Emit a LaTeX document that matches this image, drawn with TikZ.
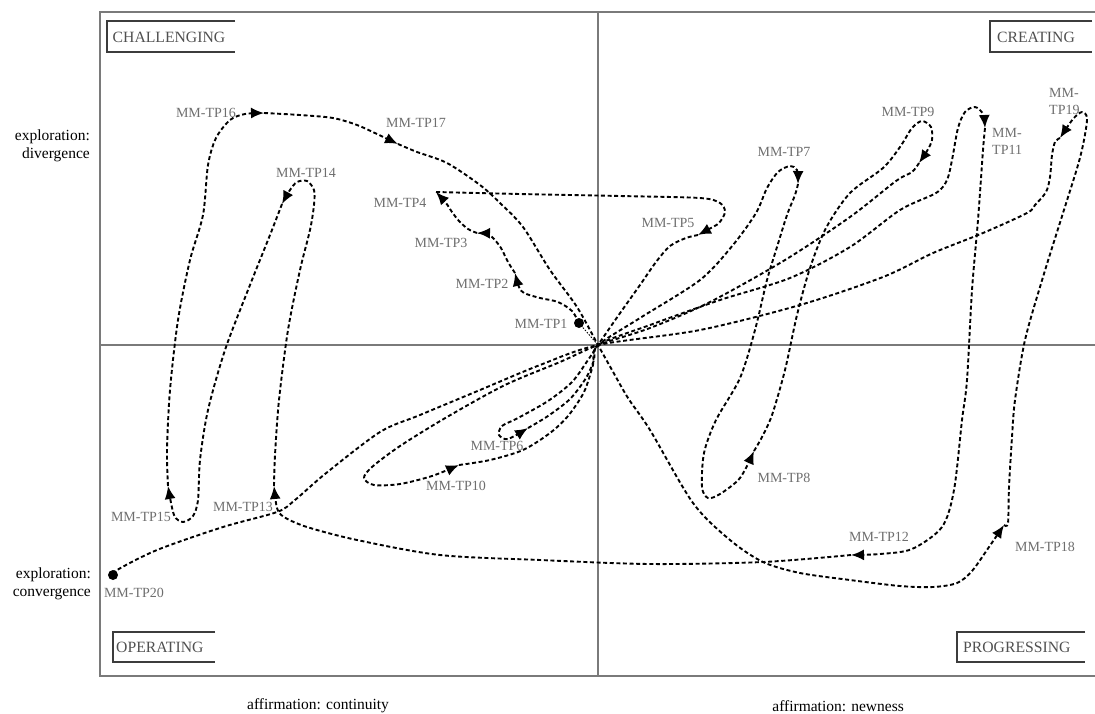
\documentclass[tikz,border=0pt]{standalone}
\usepackage{fontspec}
\setmainfont{Liberation Serif}
\usetikzlibrary{arrows.meta}
\definecolor{framegray}{HTML}{7A7A7A}
\definecolor{boxgray}{HTML}{3C3C3C}
\definecolor{labelgray}{HTML}{6E6E6E}
\definecolor{quadgray}{HTML}{505050}
\begin{document}
\begin{tikzpicture}[x=1pt,y=-1pt,
  frameline/.style={draw=framegray, line width=1.4pt},
  boxline/.style={draw=boxgray, line width=1.4pt},
  quadlabel/.style={font=\fontsize{15.7}{18}\selectfont, text=quadgray, inner sep=0pt, anchor=west},
  axislabel/.style={font=\fontsize{15.5}{18}\selectfont, inner sep=0pt},
  tplabel/.style={font=\fontsize{14}{17}\selectfont, text=labelgray, inner sep=0pt},
  trajline/.style={line width=1.9pt, dash pattern=on 4pt off 2.6pt},
  traj/.style={trajline, -{Latex[length=13pt,width=11pt]}},
  endpoint/.style={fill=black},
]
\useasboundingbox (0,0) rectangle (1095,713);

% frame and the two axes
\draw[frameline] (1095,12) -- (100,12) -- (100,676) -- (1095,676);
\draw[frameline] (598,12) -- (598,676);
\draw[frameline] (100,345) -- (1095,345);

% quadrant tags (boxes open to the right)
\draw[boxline] (235,21) -- (107,21) -- (107,52) -- (235,52);
\node[quadlabel] (challenging) at (112.5,37) {CHALLENGING};
\draw[boxline] (1092,21) -- (990,21) -- (990,52) -- (1092,52);
\node[quadlabel] (creating) at (997,37) {CREATING};
\draw[boxline] (215,632) -- (113,632) -- (113,662) -- (215,662);
\node[quadlabel] (operating) at (116,647) {OPERATING};
\draw[boxline] (1085,632) -- (957,632) -- (957,662) -- (1085,662);
\node[quadlabel] (progressing) at (963,647) {PROGRESSING};

% axis descriptions
\node[axislabel, align=right, anchor=east] (diverg) at (90,146) {exploration:\\divergence};
\node[axislabel, align=right, anchor=east] (converg) at (91,584) {exploration:\\convergence};
\node[axislabel, anchor=west] (contin) at (247,706) {affirmation: continuity};
\node[axislabel, anchor=east] (newness) at (904,706) {affirmation: newness};

% turning points
\coordinate (o) at (598,345);
\coordinate (tp1) at (579,323);
\coordinate (tp2) at (515,273);
\coordinate (tp3) at (477,233);
\coordinate (tp4) at (436,192);
\coordinate (tp5) at (698,235);
\coordinate (tp6) at (528,428);
\coordinate (tp7) at (798,184);
\coordinate (tp8) at (754,451);
\coordinate (tp9) at (919,163);
\coordinate (tp10) at (459,465);
\coordinate (tp11) at (985,128);
\coordinate (tp12) at (851,555);
\coordinate (tp13) at (274,486);
\coordinate (tp14) at (282,204);
\coordinate (tp15) at (168,486);
\coordinate (tp16) at (264,113);
\coordinate (tp17) at (398,144);
\coordinate (tp18) at (1004,525);
\coordinate (tp19) at (1060,138);
\coordinate (tp20) at (113,575);

% turning point labels
\node[tplabel] (l1) at (541,324) {MM-TP1};
\node[tplabel] (l2) at (482,284) {MM-TP2};
\node[tplabel] (l3) at (441,243) {MM-TP3};
\node[tplabel] (l4) at (400,203) {MM-TP4};
\node[tplabel] (l5) at (668,223) {MM-TP5};
\node[tplabel] (l6) at (497,446) {MM-TP6};
\node[tplabel] (l7) at (784,152) {MM-TP7};
\node[tplabel] (l8) at (784,478) {MM-TP8};
\node[tplabel] (l9) at (908,112) {MM-TP9};
\node[tplabel] (l10) at (456,486) {MM-TP10};
\node[tplabel, align=left, anchor=north west] (l11) at (992,128) {MM-\\TP11};
\node[tplabel] (l12) at (879,537) {MM-TP12};
\node[tplabel] (l13) at (243,507) {MM-TP13};
\node[tplabel] (l14) at (306,173) {MM-TP14};
\node[tplabel] (l15) at (141,517) {MM-TP15};
\node[tplabel] (l16) at (206,113) {MM-TP16};
\node[tplabel] (l17) at (416,123) {MM-TP17};
\node[tplabel] (l18) at (1045,547) {MM-TP18};
\node[tplabel, align=left, anchor=north west] (l19) at (1049,88) {MM-\\TP19};
\node[tplabel] (l20) at (134,593) {MM-TP20};

% start and end points
\draw[line width=0.9pt, dash pattern=on 1.5pt off 1.5pt] (tp1) -- (o);
\fill[endpoint] (tp1) circle (5pt);
\fill[endpoint] (tp20) circle (5pt);

% the trajectory, one leg per pair of turning points
\draw[traj] plot[smooth] coordinates {(tp1) (572,311) (558,302) (540,298) (524,293) (519,287) (tp2)};
\draw[traj] plot[smooth] coordinates {(tp2) (508,262) (501,248) (494,239) (488,234) (tp3)};
\draw[traj] plot[smooth] coordinates {(tp3) (468,229) (459,221) (452,212) (446,203) (tp4)};
\draw[traj] plot[smooth] coordinates {(tp4) (520,194) (620,196) (700,198) (720,203) (725,212) (719,223) (709,229) (tp5)};
\draw[traj] plot[smooth] coordinates {(tp5) (686,238) (670,246) (656,262) (640,285) (618,316) (o) (588,360) (572,382) (548,401) (518,418) (502,426) (499,435) (508,439) (tp6)};
\draw[traj] plot[smooth] coordinates {(tp6) (548,416) (570,399) (586,378) (594,360) (o) (640,318) (700,280) (733,245) (756,213) (767,188) (778,172) (790,166) (797,170) (tp7)};
\draw[traj] plot[smooth] coordinates {(tp7) (795,195) (787,215) (777,247) (767,280) (755,330) (740,378) (716,420) (704,453) (702,487) (708,498) (720,494) (740,478) (tp8)};
\draw[traj] plot[smooth] coordinates {(tp8) (762,437) (772,415) (785,370) (797,315) (810,268) (826,228) (850,193) (883,168) (900,147) (912,128) (922,121) (931,127) (932,140) (927,151) (tp9)};
\draw[traj] plot[smooth] coordinates {(tp9) (912,172) (896,181) (850,217) (785,260) (710,302) (650,328) (o) (560,362) (505,385) (447,417) (400,446) (372,467) (364,478) (374,485) (400,484) (432,476) (tp10)};
\draw[traj] plot[smooth] coordinates {(tp10) (490,460) (523,450) (550,433) (568,416) (584,392) (593,365) (o) (650,325) (720,300) (790,278) (850,247) (900,210) (936,193) (947,180) (952,160) (958,128) (965,112) (975,107) (983,114) (tp11)};
\draw[traj] plot[smooth] coordinates {(tp11) (983,150) (978,220) (972,290) (967,380) (962,420) (954,490) (942,527) (912,549) (880,554) (tp12)};
\draw[traj] plot[smooth] coordinates {(tp12) (763,562) (650,564) (540,560) (440,555) (357,540) (307,527) (284,517) (277,508) (tp13)};
\draw[traj] plot[smooth] coordinates {(tp13) (275,455) (279,400) (288,330) (300,270) (310,230) (314,205) (314,190) (307,181) (297,182) (290,190) (tp14)};
\draw[traj] plot[smooth] coordinates {(tp14) (270,235) (248,290) (225,350) (208,410) (200,460) (198,500) (193,516) (183,522) (174,515) (tp15)};
\draw[traj] plot[smooth] coordinates {(tp15) (167,450) (170,390) (178,320) (190,260) (203,215) (208,165) (216,138) (230,120) (245,114) (tp16)};
\draw[traj] plot[smooth] coordinates {(tp16) (300,115) (333,118) (357,125) (377,134) (tp17)};
\draw[traj] plot[smooth] coordinates {(tp17) (417,152) (447,163) (480,185) (500,203) (523,227) (550,270) (577,307) (o) (612,370) (628,398) (650,430) (693,503) (730,540) (763,562) (800,573) (850,580) (900,586) (933,587) (957,583) (972,571) (989,547) (tp18)};
\draw[traj] plot[smooth] coordinates {(tp18) (1008,523) (1009,487) (1012,437) (1015,400) (1025,340) (1043,277) (1063,213) (1078,165) (1084,140) (1087,118) (1082,112) (1073,119) (tp19)};
\draw[trajline] plot[smooth] coordinates {(tp19) (1055,142) (1052,155) (1050,177) (1046,192) (1035,205) (1027,213) (983,233) (933,253) (883,277) (800,305) (700,330) (o) (540,365) (480,390) (420,415) (380,432) (325,474) (295,500) (277,512) (223,527) (157,550) (117,570) (tp20)};
\end{tikzpicture}
\end{document}
